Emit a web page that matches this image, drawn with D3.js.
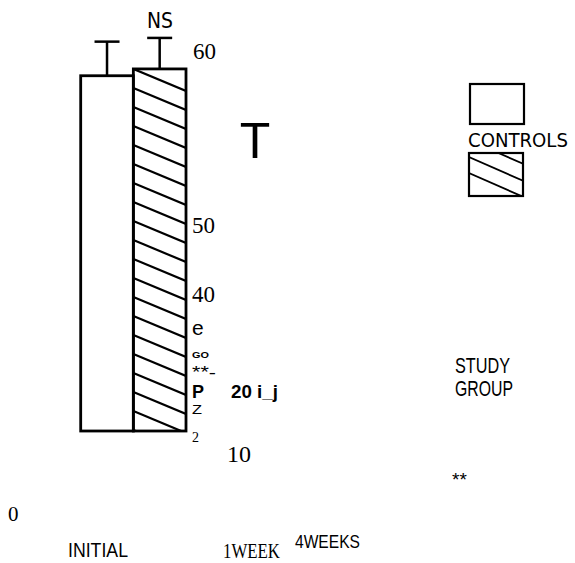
<!DOCTYPE html>
<html>
<head>
<meta charset="utf-8">
<script src="https://cdn.jsdelivr.net/npm/d3@7"></script>
<style>
  body { margin: 0; background: #fff; }
  svg { display: block; }
</style>
</head>
<body>
<div id="chart"></div>
<script>
// Chart Data
const groups = ["CONTROLS", "STUDY GROUP"];
const means = [57.3, 58.4];
const errors = [5.5, 5.0];
const timeLabels = ["INITIAL", "1WEEK", "4WEEKS"];
const axisLabels = ["60", "50", "40", "e", "GO", "**-", "P", "20 i_j", "Z", "2", "10", "0"];
const sigLabels = ["NS", "T", "**"];

// Dimensions For SVG Element
let w = 575, h = 563;
let svg = d3.select("#chart").append("svg").attr("width", w).attr("height", h);

// Scales
let xScale = d3.scaleBand().domain(groups).range([80.7, 186]).padding(0);
let yScale = d3.scaleLinear().domain([0, 60]).range([431, 59]);
let bw = xScale.bandwidth();

// Hatch clip for study bar
let studyX = xScale(groups[1]), studyY = yScale(means[1]);
svg.append("clipPath").attr("id", "hatchClip")
  .append("rect").attr("x", studyX).attr("y", studyY).attr("width", bw).attr("height", yScale(0) - studyY);

let hatch = svg.append("g").attr("clip-path", "url(#hatchClip)");
for (let k = 0; k < 22; k++) {
  let y0 = studyY + k * 19;
  hatch.append("line").attr("x1", studyX).attr("y1", y0).attr("x2", studyX + bw).attr("y2", y0 + 0.42 * bw)
    .attr("stroke", "#000").attr("stroke-width", 2.2);
}

// Draw Bars
svg.selectAll("rect.bar").data(groups).enter().append("rect").attr("class", "bar")
  .attr("x", (d) => xScale(d)).attr("y", (d, i) => yScale(means[i]))
  .attr("width", bw).attr("height", (d, i) => yScale(0) - yScale(means[i]))
  .attr("fill", "none").attr("stroke", "#000").attr("stroke-width", 2.8);

// Error Bars
groups.forEach((g, i) => {
  let cx = xScale(g) + bw / 2;
  svg.append("line").attr("x1", cx).attr("x2", cx).attr("y1", yScale(means[i])).attr("y2", yScale(means[i] + errors[i]))
    .attr("stroke", "#000").attr("stroke-width", 2.5);
  svg.append("line").attr("x1", cx - 12.5).attr("x2", cx + 12.5).attr("y1", yScale(means[i] + errors[i])).attr("y2", yScale(means[i] + errors[i]))
    .attr("stroke", "#000").attr("stroke-width", 2.5);
});

// Text helper (squeezes text horizontally to a target width)
function label(t, x, y, o) {
  let g = svg.append("g").attr("transform", "translate(" + x + "," + y + ")");
  let el = g.append("text").text(t)
    .attr("font-family", o.f || "Liberation Sans, Arial, sans-serif")
    .attr("font-size", o.s).attr("font-weight", o.b ? "bold" : "normal").attr("fill", "#000");
  if (o.a) el.attr("text-anchor", o.a);
  if (o.len) {
    let nat = el.node().getComputedTextLength();
    el.attr("transform", "scale(" + (o.len / nat) + ",1)");
  }
  return el;
}
const serif = "Liberation Serif, Times New Roman, serif";
const hand = "DejaVu Sans Condensed, DejaVu Sans, sans-serif";

// Scanned axis labels
const axisPos = [
  [193, 59, { f: serif, s: 23 }], [192, 233, { f: serif, s: 23 }], [192, 302, { f: serif, s: 23 }],
  [192, 335, { s: 21 }], [192, 358, { s: 9, b: 1, len: 17 }], [192, 378, { s: 17, len: 24 }],
  [192, 398, { s: 18, b: 1 }], [231, 398, { s: 18, b: 1, len: 47 }], [192, 414, { s: 13, len: 10 }],
  [192, 442, { f: serif, s: 14 }], [227, 462, { f: serif, s: 24 }], [8, 521, { f: serif, s: 21 }]
];
axisLabels.forEach((t, i) => label(t, axisPos[i][0], axisPos[i][1], axisPos[i][2]));

// Time point labels
label(timeLabels[0], 68, 557, { s: 20, len: 60 });
label(timeLabels[1], 223, 558, { f: serif, s: 20.5, len: 57 });
label(timeLabels[2], 295, 548, { s: 18, len: 65 });

// Significance marks
label(sigLabels[0], 147, 28, { f: hand, s: 21, len: 26 });
label(sigLabels[1], 255, 158, { s: 50, a: "middle" });
label(sigLabels[2], 452, 486, { s: 19 });

// Legend
svg.append("rect").attr("x", 470).attr("y", 84).attr("width", 54).attr("height", 40)
  .attr("fill", "none").attr("stroke", "#000").attr("stroke-width", 2.2);
label(groups[0], 468, 147, { f: hand, s: 20, len: 100 });
svg.append("clipPath").attr("id", "legClip")
  .append("rect").attr("x", 469).attr("y", 153).attr("width", 54).attr("height", 43);
let lg = svg.append("g").attr("clip-path", "url(#legClip)");
[157, 173, 140].forEach((y0) => {
  lg.append("line").attr("x1", 469).attr("y1", y0).attr("x2", 523).attr("y2", y0 + 0.44 * 54)
    .attr("stroke", "#000").attr("stroke-width", 1.8);
});
svg.append("rect").attr("x", 469).attr("y", 153).attr("width", 54).attr("height", 43)
  .attr("fill", "none").attr("stroke", "#000").attr("stroke-width", 2.2);
let sg = groups[1].split(" ");
label(sg[0], 455, 373, { s: 22, len: 55 });
label(sg[1], 455, 396, { s: 22, len: 58 });
</script>
</body>
</html>
